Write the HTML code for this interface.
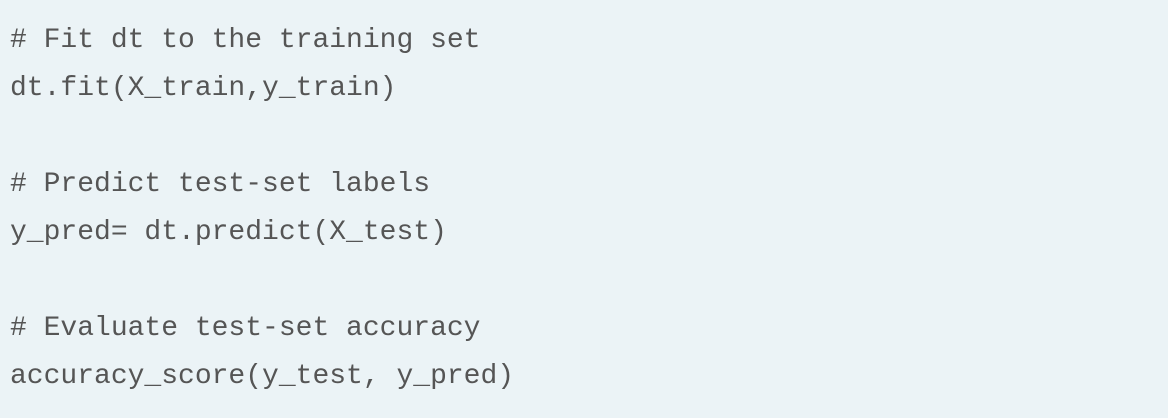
<!DOCTYPE html>
<html><head><style>
html,body{margin:0;padding:0;}
body{width:1168px;height:418px;background:#ebf3f6;overflow:hidden;}
pre{margin:0;padding:17px 0 0 10px;font-family:"Liberation Mono",monospace;font-size:28px;line-height:48px;color:#555;}
</style></head><body>
<pre># Fit dt to the training set
dt.fit(X_train,y_train)

# Predict test-set labels
y_pred= dt.predict(X_test)

# Evaluate test-set accuracy
accuracy_score(y_test, y_pred)</pre>
</body></html>
